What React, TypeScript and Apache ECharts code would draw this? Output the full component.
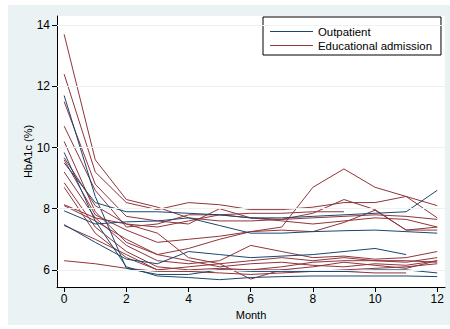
import React, { useEffect, useRef } from "react";
import * as echarts from "echarts";

const months = [0, 1, 2, 3, 4, 5, 6, 7, 8, 9, 10, 11, 12];
const xTicks = [0, 2, 4, 6, 8, 10, 12];
const yTicks = [6, 8, 10, 12, 14];

// Outpatient (blue)
const out1 = [11.7, 8.4, 6.05, 5.85, 5.85, 6.0, 5.95, 5.95, 5.95, 5.95, 6.0, 6.0, 5.9];
const out2 = [9.5, 8.2, 7.9, 7.9, 7.85, 7.8, 7.7, 7.7, 7.75, 7.8, 7.85, 7.9, 8.6];
const out3 = [7.93, 7.5, 7.57, 7.6, 7.7, 7.45, 7.2, 7.2, 7.25, 7.28, 7.3, 7.25, 7.2];
const out4 = [7.48, 6.9, 6.35, 6.2, 6.6, 6.5, 6.4, 6.45, 6.5, 6.6, 6.7, 6.5];
const out5 = [9.84, 7.6, 6.1, 5.8, 5.75, 5.68, 5.75, 5.78, 5.8, 5.8, 5.8, 5.8, 5.78];

// Educational admission (maroon)
const edu1 = [13.7, 9.6, 8.3, 8.05, 7.7, 7.6, 7.6, 7.65, 7.7, 7.75, 7.8, 7.75, 7.65];
const edu2 = [12.4, 9.2, 8.2, 7.97, 8.2, 8.13, 7.97, 7.97, 8.05, 8.2, 8.2, 8.4, 7.7];
const edu3 = [11.5, 8.8, 7.75, 7.6, 7.5, 8.0, 7.7, 7.65, 7.85, 8.3, 7.97, 7.3, 7.3];
const edu4 = [10.7, 8.6, 7.4, 7.5, 7.8, 7.8, 7.85, 7.85, 7.9, 7.9];
const edu5 = [10.2, 7.9, 6.9, 6.5, 6.7, 7.0, 7.25, 7.4, 8.7, 9.3, 8.7, 8.4, 8.1];
const edu6 = [9.67, 8.1, 7.5, 7.4, 7.6, 7.8, 7.7, 7.6, 7.5, 7.6, 7.7, 7.65, 7.4];
const edu7 = [9.6, 7.8, 7.3, 6.9, 7.0, 7.1, 7.25, 7.3, 7.25, 7.55, 7.95, 7.3, 7.4];
const edu8 = [9.2, 7.7, 6.8, 6.3, 6.2, 6.3, 6.8, 6.6, 6.4, 6.45, 6.35, 6.4, 6.6];
const edu9 = [8.85, 7.4, 6.6, 6.1, 6.0, 6.05, 6.0, 6.1, 6.25, 6.3, 6.3, 6.25, 6.4];
const edu10 = [8.7, 7.2, 6.4, 6.0, 6.1, 6.2, 5.7, 6.0, 6.1, 6.25, 6.15, 6.05, 6.3];
const edu11 = [8.13, 7.7, 7.5, 7.2, 6.4, 6.2, 6.3, 6.4, 6.3, 6.4, 6.3, 6.3, 6.25];
const edu12 = [8.1, 7.6, 7.0, 6.5, 6.3, 6.1, 6.2, 6.25, 6.15, 6.1, 6.2, 6.15, 6.3];
const edu13 = [7.45, 7.0, 6.5, 6.0, 5.95, 6.0, 6.0, 6.0, 5.95, 5.95, 5.9, 5.9];
const edu14 = [6.3, 6.2, 6.05, 5.95, 5.95, 5.9, 5.85, 5.9, 5.95, 6.0, 6.05, 6.1, 6.2];

const outpatient = [out1, out2, out3, out4, out5];
const education = [edu1, edu2, edu3, edu4, edu5, edu6, edu7, edu8, edu9, edu10, edu11, edu12, edu13, edu14];

const NAVY = "#1a476f";
const MAROON = "#90353b";
const BG = "#eaf2f3";
const FONT = "'Liberation Sans', Arial, sans-serif";

export default function App() {
  const ref = useRef<HTMLDivElement>(null);
  useEffect(() => {
    if (!ref.current) return;
    const chart = echarts.init(ref.current, null, { renderer: "svg" });
    const mk = (name: string, color: string, vals: number[]) => ({
      name,
      type: "line",
      symbol: "none",
      z: 3,
      lineStyle: { color, width: 1 },
      itemStyle: { color },
      data: vals.map((v, i) => [months[i], v]),
    });
    const series: any[] = [
      {
        name: "grid",
        type: "line",
        data: [],
        z: 1,
        silent: true,
        markLine: {
          silent: true,
          symbol: ["none", "none"],
          label: { show: false },
          lineStyle: { color: BG, width: 1, type: "solid" },
          data: yTicks.map((v) => ({ yAxis: v })),
        },
      },
      ...education.map((d) => mk("Educational admission", MAROON, d)),
      ...outpatient.map((d) => mk("Outpatient", NAVY, d)),
    ];
    chart.setOption({
      animation: false,
      backgroundColor: "transparent",
      textStyle: { fontFamily: FONT, color: "#000" },
      graphic: [
        {
          type: "rect",
          z: -10,
          silent: true,
          shape: { x: 8, y: 5, width: 442, height: 320 },
          style: { fill: BG },
        },
      ],
      grid: {
        left: 57,
        top: 16,
        width: 388,
        height: 271,
        show: true,
        backgroundColor: "#ffffff",
        borderWidth: 0,
      },
      legend: {
        data: ["Outpatient", "Educational admission"],
        orient: "vertical",
        left: 263,
        top: 17,
        padding: [9, 9, 4, 7],
        itemGap: 3,
        itemWidth: 43,
        itemHeight: 1,
        icon: "rect",
        backgroundColor: "#ffffff",
        borderColor: "#000",
        borderWidth: 1,
        borderRadius: 0,
        textStyle: { fontFamily: FONT, fontSize: 11.4, color: "#000" },
        selectedMode: false,
      },
      xAxis: {
        type: "value",
        min: -0.23,
        max: 12.25,
        name: "Month",
        nameLocation: "middle",
        nameGap: 22,
        nameMoveOverlap: false,
        nameTextStyle: { fontFamily: FONT, fontSize: 11, color: "#000" },
        axisLine: { show: true, onZero: false, lineStyle: { color: "#000", width: 1 } },
        axisTick: { show: true, length: 5, customValues: xTicks, lineStyle: { color: "#000" } },
        axisLabel: { customValues: xTicks, margin: 6, fontSize: 12, color: "#000", fontFamily: FONT },
        splitLine: { show: false },
      },
      yAxis: {
        type: "value",
        min: 5.44,
        max: 14.3,
        name: "HbA1c (%)",
        nameLocation: "middle",
        nameGap: 24,
        nameMoveOverlap: false,
        nameTextStyle: { fontFamily: FONT, fontSize: 11, color: "#000" },
        axisLine: { show: true, onZero: false, lineStyle: { color: "#000", width: 1 } },
        axisTick: { show: true, length: 5, customValues: yTicks, lineStyle: { color: "#000" } },
        axisLabel: { customValues: yTicks, margin: 7, fontSize: 12, color: "#000", fontFamily: FONT },
        splitLine: { show: false },
      },
      series,
    });
    return () => chart.dispose();
  }, []);
  return (
    <div
      ref={ref}
      style={{ position: "absolute", left: 0, top: 0, width: 450, height: 329 }}
    />
  );
}
